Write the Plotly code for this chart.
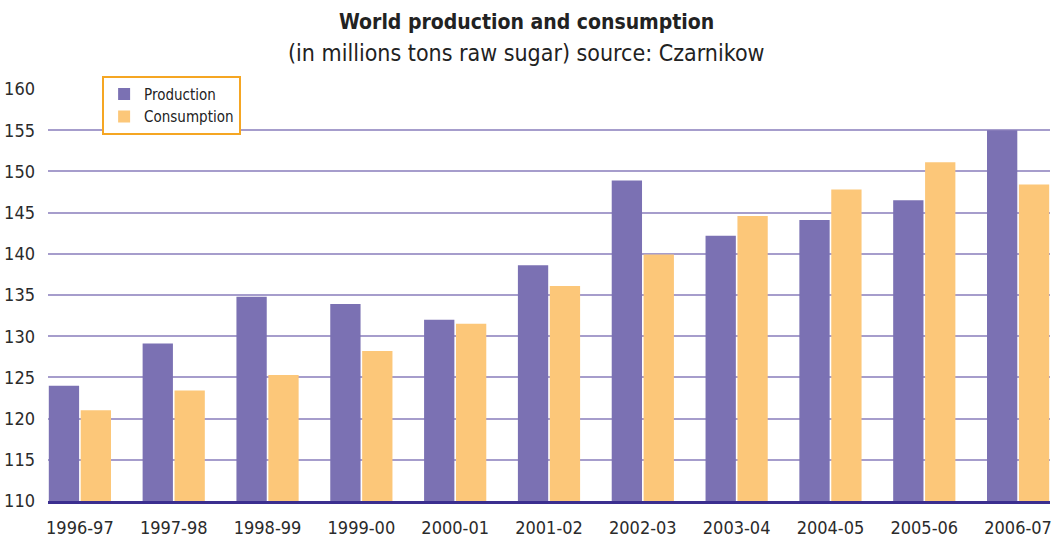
import plotly.graph_objects as go

seasons = ["1996-97", "1997-98", "1998-99", "1999-00", "2000-01", "2001-02",
           "2002-03", "2003-04", "2004-05", "2005-06", "2006-07"]
production = [124.0, 129.1, 134.8, 133.9, 132.0, 138.6, 148.9, 142.2, 144.1, 146.5, 155.0]
consumption = [121.0, 123.4, 125.3, 128.2, 131.5, 136.1, 139.9, 144.6, 147.8, 151.1, 148.4]
y_ticks = [110, 115, 120, 125, 130, 135, 140, 145, 150, 155, 160]

FONT = "Liberation Sans Narrow, DejaVu Sans Condensed, Arial Narrow, sans-serif"
PURPLE = "#7B71B3"
ORANGE = "#FCC779"

fig = go.Figure()
fig.add_trace(go.Bar(name="Production", x=seasons, y=production,
                     marker=dict(color=PURPLE, line=dict(width=0))))
fig.add_trace(go.Bar(name="Consumption", x=seasons, y=consumption,
                     marker=dict(color=ORANGE, line=dict(width=0))))

# Title and subtitle as centred text lines above the plot area
fig.add_annotation(text="<b>World production and consumption</b>",
                   x=0.478, xref="paper", y=1.163, yref="paper",
                   xanchor="center", yanchor="middle", showarrow=False,
                   font=dict(family=FONT, size=21, color="#222"))
fig.add_annotation(text="(in millions tons raw sugar) source: Czarnikow",
                   x=0.478, xref="paper", y=1.087, yref="paper",
                   xanchor="center", yanchor="middle", showarrow=False,
                   font=dict(family=FONT, size=23, color="#222"))

fig.update_layout(
    width=1055, height=541,
    margin=dict(l=48, r=3, t=89, b=40),
    paper_bgcolor="white", plot_bgcolor="white",
    barmode="group", bargap=0.32, bargroupgap=0.05,
    font=dict(family=FONT, size=18, color="#2b2b2b"),
    legend=dict(
        x=0.054, y=1.032, xanchor="left", yanchor="top",
        bgcolor="white", bordercolor="#F5A623", borderwidth=2,
        font=dict(family=FONT, size=15, color="#222"),
        itemwidth=30, tracegroupgap=2),
    showlegend=True,
)
fig.update_xaxes(
    type="category", range=[-0.34, 10.34],
    showgrid=False, ticks="", showline=True, linecolor="#3B2E8F", linewidth=3,
    ticklabelstandoff=8,
    tickfont=dict(family=FONT, size=18, color="#2b2b2b"),
)
fig.update_yaxes(
    range=[110, 160], tickvals=y_ticks, showgrid=True, gridcolor="#A69DCC", gridwidth=2,
    zeroline=False, ticks="", ticklabelstandoff=12,
    tickfont=dict(family=FONT, size=18, color="#2b2b2b"),
)

fig.write_html("out.html")
